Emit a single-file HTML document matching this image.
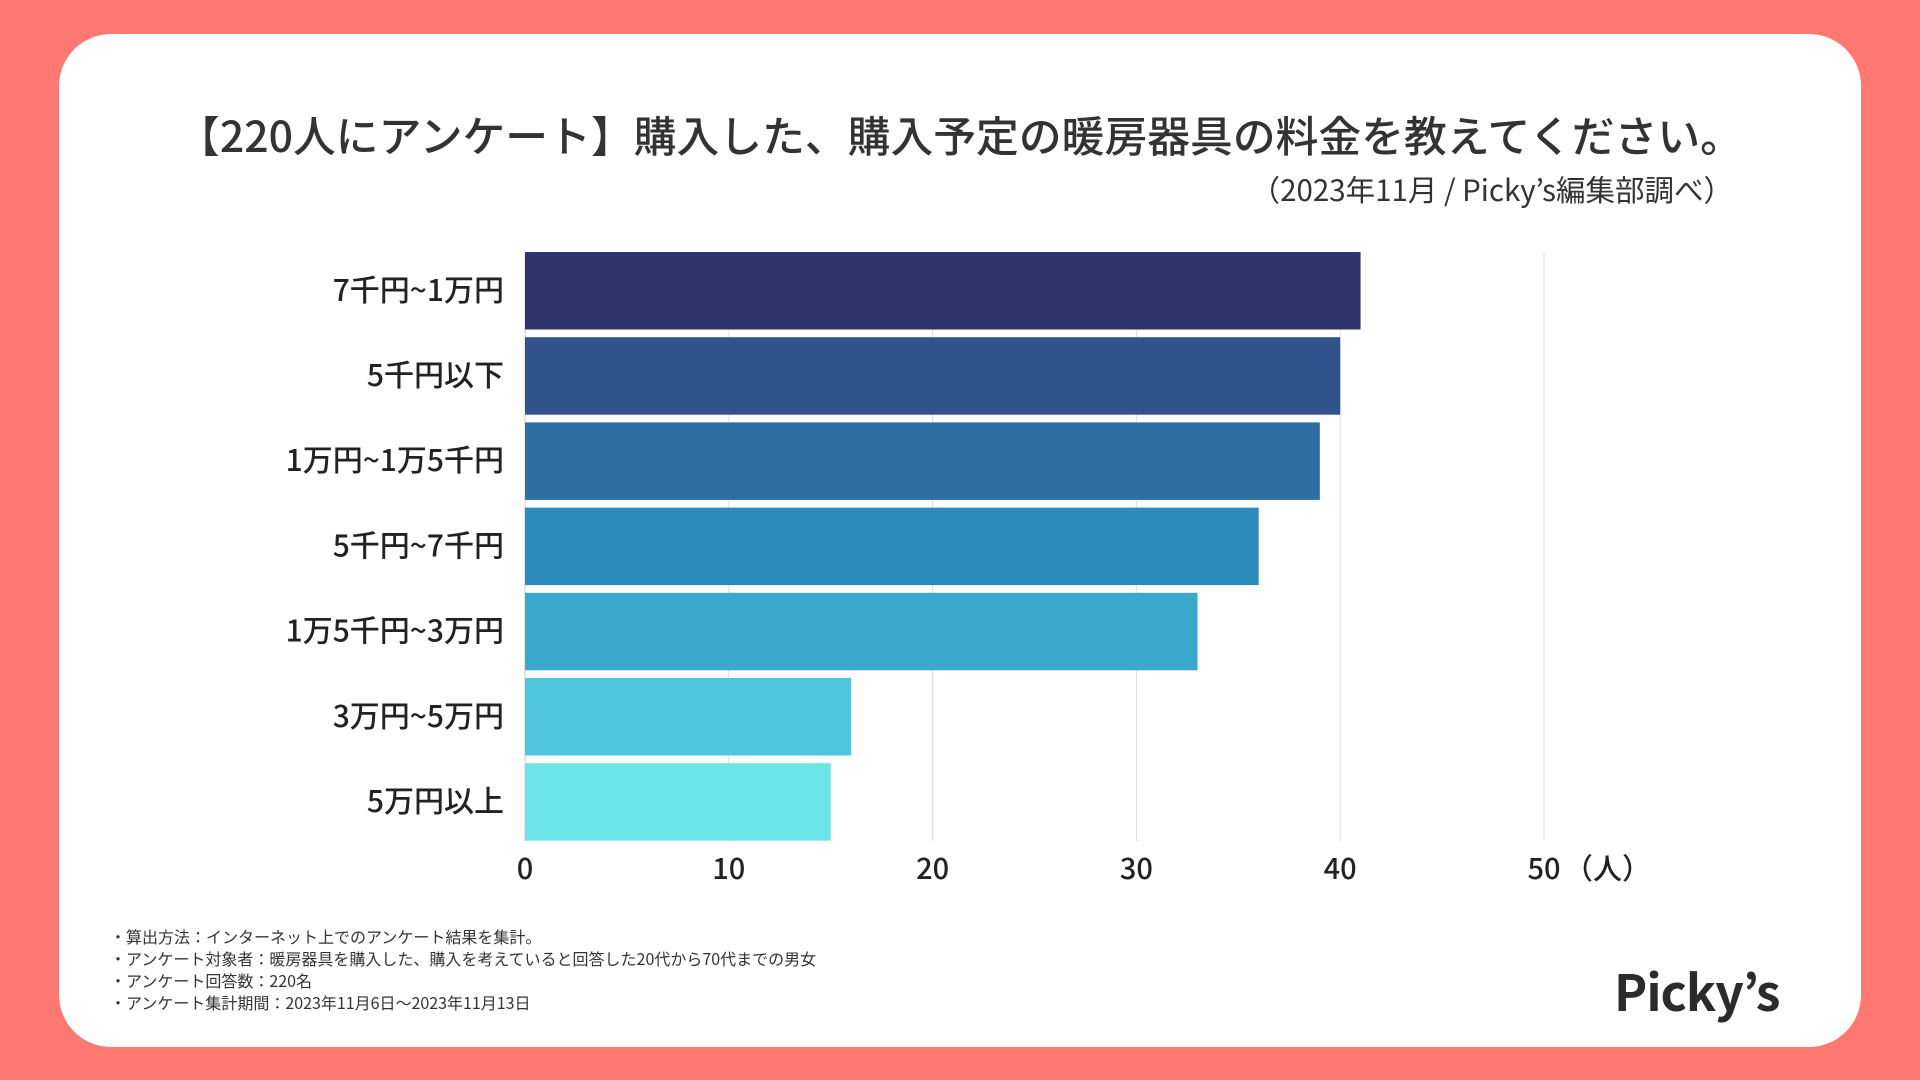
<!DOCTYPE html>
<html><head><meta charset="utf-8">
<style>
html,body{margin:0;padding:0;}
body{width:1920px;height:1080px;background:#ff7872;position:relative;overflow:hidden;font-family:"Noto Sans CJK JP","Liberation Sans",sans-serif;color:#222;}
#card{position:absolute;left:59px;top:34px;width:1802px;height:1013px;background:#fff;border-radius:52px;}
#title{position:absolute;left:0;width:1920px;top:104px;text-align:center;font-size:42.8px;font-weight:500;color:#333;line-height:60px;}
#sub{position:absolute;right:187px;top:168px;font-size:29.5px;color:#333;line-height:42px;}
#notes{position:absolute;left:110px;top:925px;font-size:16px;line-height:22px;color:#333;}
#logo{position:absolute;left:1614px;top:960px;font-size:50px;font-weight:bold;color:#2b2b2b;letter-spacing:-1px;line-height:60px;}
svg{position:absolute;left:0;top:0;}
</style></head><body>
<div id="card"></div>
<div id="title">【220人にアンケート】購入した、購入予定の暖房器具の料金を教えてください。</div>
<div id="sub">（2023年11月 / Picky’s編集部調べ）</div>
<svg id="chart" width="1920" height="1080"></svg>
<div id="notes">・算出方法：インターネット上でのアンケート結果を集計。<br>・アンケート対象者：暖房器具を購入した、購入を考えていると回答した20代から70代までの男女<br>・アンケート回答数：220名<br>・アンケート集計期間：2023年11月6日〜2023年11月13日</div>
<div id="logo">Picky’s</div>
<script>
const categories=["7千円~1万円","5千円以下","1万円~1万5千円","5千円~7千円","1万5千円~3万円","3万円~5万円","5万円以上"];
const values=[41,40,39,36,33,16,15];
const colors=["#2f346b","#30538c","#2d6fa3","#2c8bba","#3ba8cd","#4ec7dd","#6be5e8"];
const ticks=[0,10,20,30,40,50];
const NS="http://www.w3.org/2000/svg";
const svg=document.getElementById('chart');
const FF='"Noto Sans CJK JP","Liberation Sans",sans-serif';
const x0=525,unit=20.38,top0=252,pitch=85.2,bh=77.5;
const xs=v=>x0+v*unit;
const ys=i=>top0+i*pitch;
function mk(t,a){const e=document.createElementNS(NS,t);for(const k in a)e.setAttribute(k,a[k]);svg.appendChild(e);return e;}
ticks.forEach(t=>{
  if(t>0){const l=mk('line',{x1:xs(t),x2:xs(t),y1:252,y2:841,stroke:'#dddddd','stroke-width':1});
  
  }
  const tx=mk('text',{x:xs(t),y:879,'text-anchor':'middle','font-size':29,'font-weight':500,fill:'#222','font-family':FF});
  tx.textContent=t;
  
  
});
const u=mk('text',{x:xs(50)+20,y:879,'font-size':29,'font-weight':500,fill:'#222','font-family':FF});
u.textContent='（人）';


const ax=mk('line',{x1:x0,x2:x0,y1:252,y2:841,stroke:'#cccccc','stroke-width':1});


categories.forEach((c,i)=>{
  const r=mk('rect',{x:x0,y:ys(i),width:xs(values[i])-x0,height:bh,fill:colors[i]});
  
  
  const t=mk('text',{x:504,y:ys(i)+bh/2+10,'text-anchor':'end','font-size':30,'font-weight':500,fill:'#222','font-family':FF});
  t.textContent=c;
  
  
});
</script>
</body></html>
